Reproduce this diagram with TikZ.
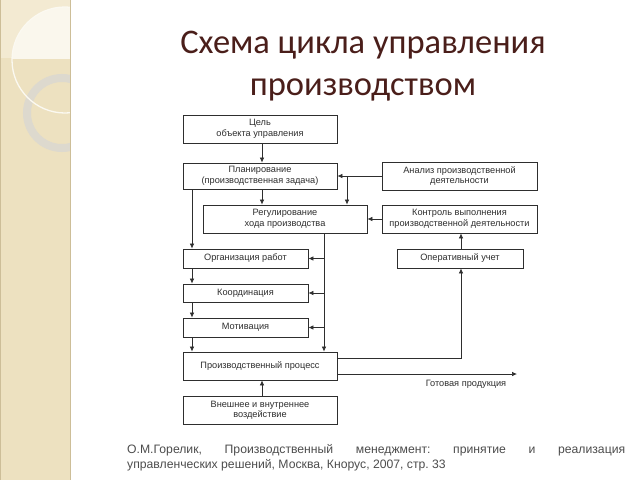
\documentclass[tikz,border=0pt]{standalone}
\usepackage{fontspec}
\setmainfont{Liberation Sans}
\newfontfamily\titlefont{Carlito}
\usetikzlibrary{arrows.meta}
\definecolor{band}{HTML}{EDE1C0}
\definecolor{bandlight}{HTML}{F3EAD2}
\definecolor{bandedge}{HTML}{CDBE98}
\definecolor{ringgrey}{HTML}{DDD9CE}
\definecolor{titlecol}{HTML}{4A1E1A}
\definecolor{ink}{HTML}{2E2E2E}
\tikzset{
  box/.style={draw=ink, line width=0.8pt, fill=white, align=center, inner sep=1pt,
     font=\fontsize{9.2}{10.5}\selectfont, text=ink},
  arr/.style={draw=ink, line width=0.7pt, -{Latex[length=5pt,width=4.5pt]}},
  ln/.style={draw=ink, line width=0.7pt}
}
\begin{document}
\begin{tikzpicture}[x=1pt,y=-1pt]
\useasboundingbox (0,0) rectangle (640,480);
\fill[white] (0,0) rectangle (640,480);
% decorative band
\fill[band] (0,0) rectangle (70,480);
\fill[bandlight] (0,0) rectangle (70,58);
\begin{scope}
  \clip (0,0) rectangle (70,58);
  \fill[white!60!bandlight] (65,60) circle (53);
\end{scope}
\begin{scope}
  \clip (0,0) rectangle (70,480);
  \draw[ringgrey, line width=8pt] (62,113) circle (35);
  \draw[white!70!bandlight, line width=1.3pt] (65,60) circle (53);
\end{scope}
\draw[bandedge, line width=0.8pt] (70,0) -- (70,480);
\draw[bandedge, line width=0.8pt] (0.4,0) -- (0.4,480);
% title
\node[font=\titlefont\fontsize{34.5}{42}\selectfont, text=titlecol, align=center] (title) at (363,66)
  {Схема цикла управления\\производством};
% boxes
\node[box, minimum width=154, minimum height=28] (goal) at (260,129) {Цель\\объекта управления};
\node[box, minimum width=154, minimum height=26] (plan) at (260,176) {Планирование\\(производственная задача)};
\node[box, minimum width=164, minimum height=28] (reg) at (285,219) {Регулирование\\хода производства};
\node[box, minimum width=155, minimum height=28] (an) at (459.5,176) {Анализ производственной\\деятельности};
\node[box, minimum width=155, minimum height=28] (ctrl) at (459.5,219) {Контроль выполнения\\производственной деятельности};
\node[box, minimum width=126, minimum height=19] (op) at (460,258.5) {Оперативный учет};
\node[box, minimum width=125, minimum height=19] (org) at (245.5,258.5) {Организация работ};
\node[box, minimum width=125, minimum height=18] (coord) at (245.5,293) {Координация};
\node[box, minimum width=125, minimum height=19] (mot) at (245.5,327.5) {Мотивация};
\node[box, minimum width=154, minimum height=28] (proc) at (260,366) {Производственный процесс};
\node[box, minimum width=154, minimum height=28] (ext) at (260,410) {Внешнее и внутреннее\\воздействие};
% connectors
\draw[arr] (goal.south -| 262,0) -- (plan.north -| 262,0);
\draw[arr] (plan.south -| 262,0) -- (reg.north -| 262,0);
\draw[arr] (an.west) -- (plan.east);
\coordinate (j1) at (347,176);
\draw[arr] (j1) -- (reg.north -| j1);
\draw[arr] (ctrl.west) -- (reg.east);
\draw[arr] (plan.south -| 192,0) -- (org.north -| 192,0);
\draw[arr] (org.south -| 192,0) -- (coord.north -| 192,0);
\draw[arr] (coord.south -| 192,0) -- (mot.north -| 192,0);
\draw[arr] (mot.south -| 192,0) -- (proc.north -| 192,0);
\draw[arr] (reg.south -| 324,0) -- (proc.north -| 324,0);
\draw[arr] (org.east -| 324,0) -- (org.east);
\draw[arr] (coord.east -| 324,0) -- (coord.east);
\draw[arr] (mot.east -| 324,0) -- (mot.east);
\draw[arr] (proc.east |- 0,358) -| (op.south -| 461,0);
\draw[arr] (op.north -| 461,0) -- (ctrl.south -| 461,0);
\coordinate (out) at (517,374);
\draw[arr] (proc.east |- out) -- (out);
\node[font=\fontsize{9.2}{10.5}\selectfont, text=ink] (outlbl) at (466,384) {Готовая продукция};
\draw[arr] (ext.north -| 262,0) -- (proc.south -| 262,0);
% footer
\node[anchor=north west, inner sep=0pt, text=ink!85, font=\fontsize{12.2}{15}\selectfont] (foot) at (127,444)
  {\parbox{498pt}{\frenchspacing\noindent О.М.Горелик, Производственный менеджмент: принятие и реализация\linebreak управленческих решений, Москва, Кнорус, 2007, стр.~33}};
\end{tikzpicture}
\end{document}
